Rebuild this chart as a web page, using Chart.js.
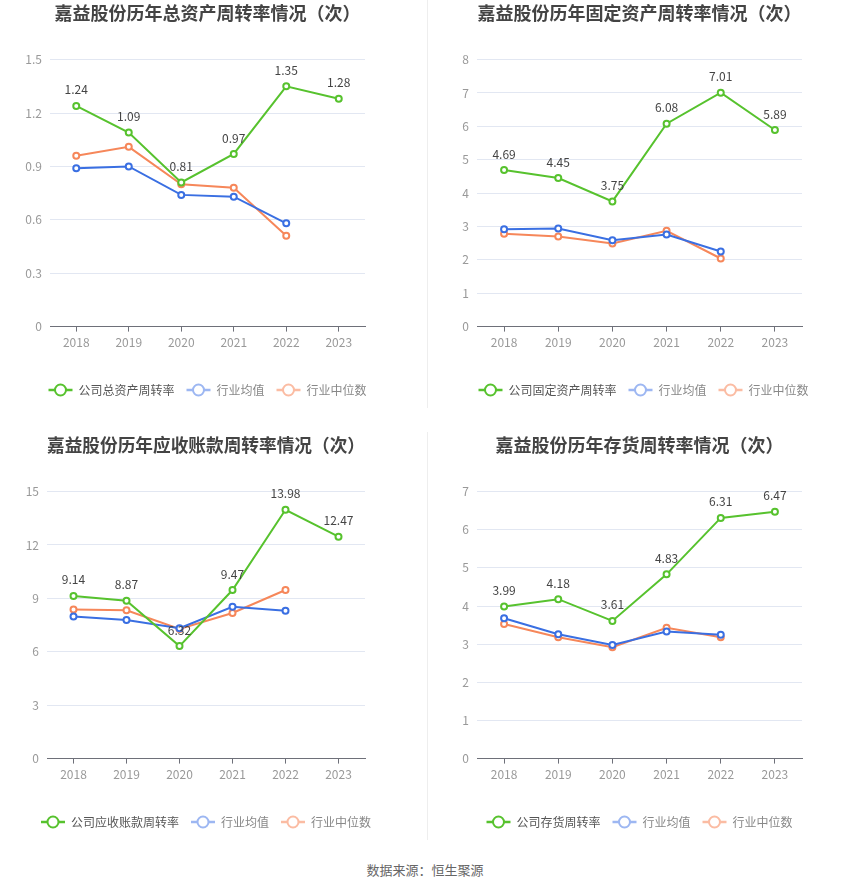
<!DOCTYPE html>
<html>
<head>
<meta charset="utf-8">
<script src="https://cdn.jsdelivr.net/npm/chart.js@4/dist/chart.umd.min.js"></script>
<style>
  body { margin: 0; background: #fff; font-family: "Noto Sans CJK SC", sans-serif; }
  .box { position: absolute; width: 425px; height: 420px; }
  .divider { position: absolute; left: 427px; width: 1px; background: #eeeeee; }
  #source { position: absolute; left: 0; width: 850px; top: 860px; text-align: center; font-size: 13px; color: #666; }
</style>
</head>
<body>
<div class="box" style="left:0;top:0"><canvas id="c1" width="425" height="420"></canvas></div>
<div class="box" style="left:425px;top:0"><canvas id="c2" width="425" height="420"></canvas></div>
<div class="box" style="left:0;top:432px"><canvas id="c3" width="425" height="420"></canvas></div>
<div class="box" style="left:425px;top:432px"><canvas id="c4" width="425" height="420"></canvas></div>
<div class="divider" style="top:0;height:408px"></div>
<div class="divider" style="top:432px;height:408px"></div>
<div id="source">数据来源：恒生聚源</div>
<script>
const years = ['2018', '2019', '2020', '2021', '2022', '2023'];

// 总资产周转率
const totalAssetCompany = [1.24, 1.09, 0.81, 0.97, 1.35, 1.28];
const totalAssetAvg = [0.89, 0.90, 0.74, 0.73, 0.58, null];
const totalAssetMedian = [0.96, 1.01, 0.80, 0.78, 0.51, null];

// 固定资产周转率
const fixedAssetCompany = [4.69, 4.45, 3.75, 6.08, 7.01, 5.89];
const fixedAssetAvg = [2.92, 2.94, 2.59, 2.76, 2.25, null];
const fixedAssetMedian = [2.78, 2.70, 2.49, 2.87, 2.04, null];

// 应收账款周转率
const receivableCompany = [9.14, 8.87, 6.32, 9.47, 13.98, 12.47];
const receivableAvg = [7.99, 7.78, 7.33, 8.53, 8.31, null];
const receivableMedian = [8.38, 8.33, 7.28, 8.18, 9.47, null];

// 存货周转率
const inventoryCompany = [3.99, 4.18, 3.61, 4.83, 6.31, 6.47];
const inventoryAvg = [3.68, 3.26, 2.98, 3.33, 3.25, null];
const inventoryMedian = [3.53, 3.18, 2.92, 3.43, 3.18, null];

const GREEN = '#57c22e';
const BLUE = '#3a6fe2';
const ORANGE = '#f6875a';
const FONT = '"Noto Sans CJK SC", sans-serif';

// value labels above the company series
const valueLabels = {
  id: 'valueLabels',
  afterDatasetsDraw(chart) {
    const ctx = chart.ctx;
    const meta = chart.getDatasetMeta(0);
    const data = chart.data.datasets[0].data;
    ctx.save();
    ctx.font = '12px ' + FONT;
    ctx.fillStyle = '#444';
    ctx.textAlign = 'center';
    ctx.textBaseline = 'middle';
    meta.data.forEach((pt, i) => {
      if (data[i] == null) return;
      ctx.fillText(data[i].toFixed(2), pt.x, pt.y - 16);
    });
    ctx.restore();
  }
};

// legend: line with hollow circle, centred under the plot
const lineLegend = {
  id: 'lineLegend',
  afterDraw(chart, args, opts) {
    const ctx = chart.ctx;
    const area = chart.chartArea;
    const items = chart.data.datasets.map((ds, i) => ({
      text: ds.label, color: opts.markerColors[i], textColor: opts.textColors[i]
    }));
    ctx.save();
    ctx.font = '12px ' + FONT;
    const widths = items.map(it => 24 + 6 + ctx.measureText(it.text).width);
    const total = widths.reduce((a, b) => a + b, 0) + 12 * (items.length - 1);
    let x = (area.left + area.right) / 2 - total / 2 + opts.shift;
    const y = opts.y;
    items.forEach((it, i) => {
      ctx.strokeStyle = it.color;
      ctx.lineWidth = 2.5;
      ctx.beginPath(); ctx.moveTo(x, y); ctx.lineTo(x + 24, y); ctx.stroke();
      ctx.fillStyle = '#fff';
      ctx.lineWidth = 2;
      ctx.beginPath(); ctx.arc(x + 12, y, 5.5, 0, Math.PI * 2); ctx.fill(); ctx.stroke();
      ctx.fillStyle = it.textColor;
      ctx.textAlign = 'left';
      ctx.textBaseline = 'middle';
      ctx.fillText(it.text, x + 30, y);
      x += widths[i] + 12;
    });
    ctx.restore();
  }
};

function makeChart(id, title, name, company, avg, median, yMax, yStep, axisW, padRight, shift) {
  const series = (label, data, color) => ({
    label: label,
    data: data,
    borderColor: color,
    backgroundColor: '#fff',
    borderWidth: 2,
    pointRadius: 3,
    pointBorderWidth: 2,
    pointBackgroundColor: '#fff',
    tension: 0
  });
  new Chart(document.getElementById(id), {
    type: 'line',
    data: {
      labels: years,
      datasets: [
        series(name, company, GREEN),
        series('行业均值', avg, BLUE),
        series('行业中位数', median, ORANGE)
      ]
    },
    options: {
      responsive: false,
      animation: false,
      layout: { padding: { top: 0, right: padRight, bottom: 66, left: 0 } },
      plugins: {
        title: {
          display: true,
          text: title,
          fullSize: false,
          color: '#444',
          font: { size: 18, weight: 'bold', family: FONT },
          padding: { top: 2, bottom: 36 }
        },
        legend: { display: false },
        tooltip: { enabled: false },
        lineLegend: {
          y: 390,
          shift: shift,
          markerColors: [GREEN, '#9db7f2', '#fbbca3'],
          textColors: ['#555', '#888', '#888']
        }
      },
      scales: {
        x: {
          offset: true,
          grid: { display: true, drawOnChartArea: false, offset: false, tickLength: 5, color: '#6e7079' },
          border: { color: '#6e7079' },
          ticks: { color: '#999', padding: 4, font: { size: 12, family: FONT } }
        },
        y: {
          min: 0,
          max: yMax,
          afterFit: scale => { scale.width = axisW; },
          grid: { color: '#e2e7f2', drawTicks: false },
          border: { display: false },
          ticks: {
            stepSize: yStep,
            padding: 8,
            color: '#999',
            font: { size: 12, family: FONT },
            callback: v => String(+v.toFixed(2))
          }
        }
      }
    },
    plugins: [valueLabels, lineLegend]
  });
}

makeChart('c1', '嘉益股份历年总资产周转率情况（次）', '公司总资产周转率',
  totalAssetCompany, totalAssetAvg, totalAssetMedian, 1.5, 0.3, 50, 60, 0);
makeChart('c2', '嘉益股份历年固定资产周转率情况（次）', '公司固定资产周转率',
  fixedAssetCompany, fixedAssetAvg, fixedAssetMedian, 8, 1, 52, 48, 4);
makeChart('c3', '嘉益股份历年应收账款周转率情况（次）', '公司应收账款周转率',
  receivableCompany, receivableAvg, receivableMedian, 15, 3, 47, 60, 0);
makeChart('c4', '嘉益股份历年存货周转率情况（次）', '公司存货周转率',
  inventoryCompany, inventoryAvg, inventoryMedian, 7, 1, 52, 48, 0);
</script>
</body>
</html>
